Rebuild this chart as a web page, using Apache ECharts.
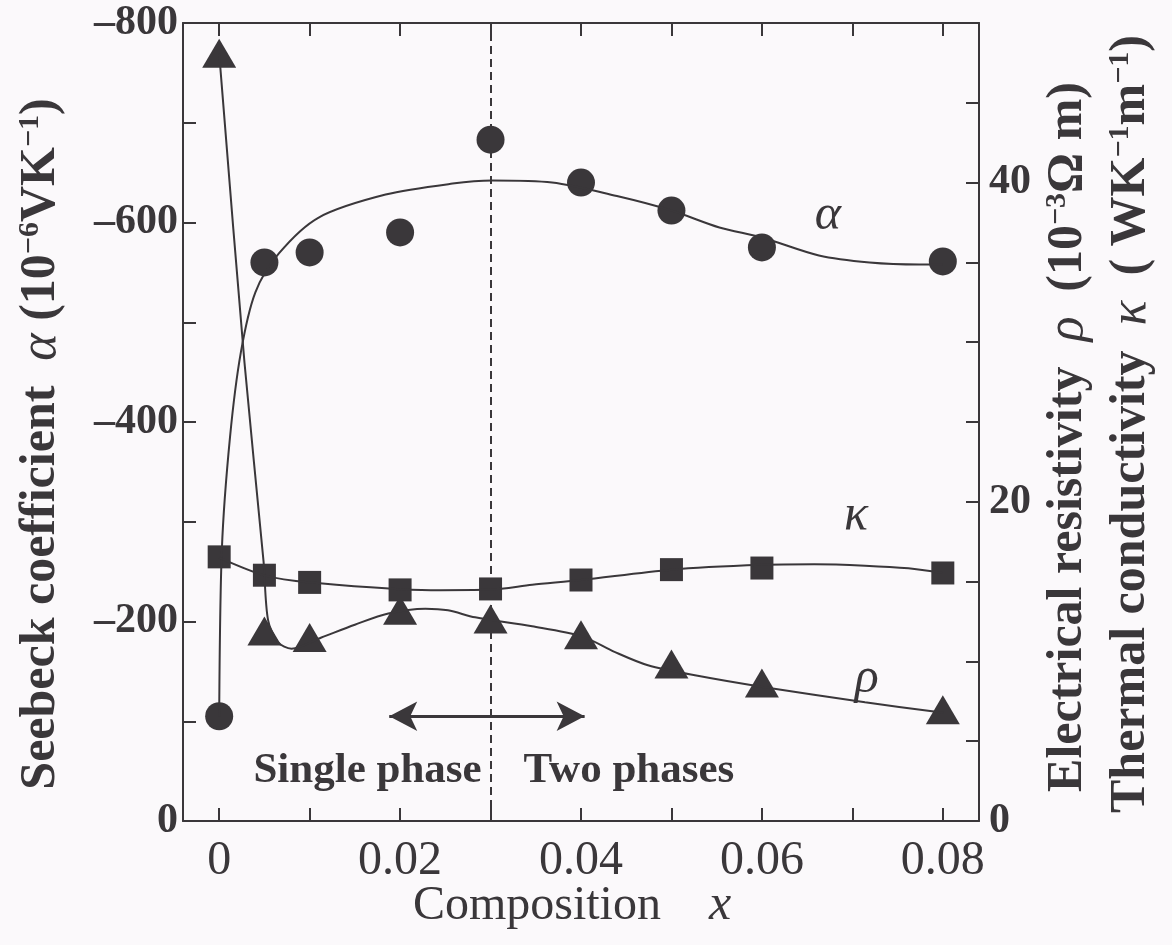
<!DOCTYPE html>
<html>
<head>
<meta charset="utf-8">
<script src="https://cdn.jsdelivr.net/npm/echarts@6/dist/echarts.min.js"></script>
<style>
  html, body { margin: 0; padding: 0; background: #fbf9fb; }
  #chart { width: 1172px; height: 945px; }
</style>
</head>
<body>
<div id="chart"></div>
<script>
// Composition x of the measured samples
const composition = [0, 0.005, 0.01, 0.02, 0.03, 0.04, 0.05, 0.06, 0.08];
// Seebeck coefficient alpha (10^-6 V/K)
const seebeck = [-105, -560, -570, -590, -683, -640, -612, -575, -561];
// Electrical resistivity rho (10^-3 Ohm m)
const resistivity = [48.1, 11.9, 11.5, 13.2, 12.65, 11.67, 9.84, 8.64, 6.97];
// Thermal conductivity kappa (W/K/m)
const conductivity = [16.55, 15.4, 14.95, 14.48, 14.54, 15.1, 15.75, 15.85, 15.54];

// Guide curves drawn through each data set
const seebeckCurveX = [0, 0.0003, 0.0012, 0.0024, 0.0040, 0.0066, 0.011, 0.0184, 0.0258, 0.0302, 0.0368, 0.0442, 0.05, 0.0553, 0.06, 0.0663, 0.0719, 0.0774, 0.08];
const seebeckCurveY = [-105, -273, -385, -470, -530, -569, -605, -628, -639, -642, -640, -626, -612, -595, -585, -567, -560, -558, -558];
const rhoCurveX = [0, 0.0028, 0.0049, 0.0054, 0.0065, 0.008, 0.0113, 0.015, 0.0187, 0.0228, 0.0253, 0.0283, 0.0346, 0.0401, 0.0437, 0.0474, 0.0529, 0.0601, 0.0714, 0.0801];
const rhoCurveY = [48.1, 28.7, 16.3, 12.6, 11.2, 10.8, 11.5, 12.3, 13.0, 13.3, 13.2, 12.76, 12.2, 11.57, 10.6, 9.76, 9.1, 8.4, 7.44, 6.78];
const kappaCurveX = [0, 0.005, 0.01, 0.0234, 0.03, 0.0346, 0.04, 0.05, 0.06, 0.0658, 0.0714, 0.0762, 0.08];
const kappaCurveY = [16.5, 15.39, 14.95, 14.46, 14.5, 14.8, 15.1, 15.75, 16.05, 16.09, 16.0, 15.83, 15.54];

// Tick labels
const xTickValues = [0, 0.02, 0.04, 0.06, 0.08];
const xTickLabels = ['0', '0.02', '0.04', '0.06', '0.08'];
const alphaTickValues = [0, -200, -400, -600, -800];
const alphaTickLabels = ['0', '\u2013200', '\u2013400', '\u2013600', '\u2013800'];
const rightTickValues = [0, 20, 40];
const rightTickLabels = ['0', '20', '40'];

// Phase boundary and annotations
const phaseBoundary = 0.03;
const phaseArrow = [[0.0188, -105], [0.0404, -105]];
const phaseLabels = [
  { name: 'Single phase', coord: [0.0164, -50] },
  { name: 'Two phases', coord: [0.0453, -50] }
];
const alphaTag = { name: '\u03b1', coord: [0.0673, -607] };
const kappaTag = { name: '\u03ba', coord: [0.0704, 19.1] };
const rhoTag = { name: '\u03c1', coord: [0.0716, 8.88] };

const ink = '#3a373a';
const serif = '"Liberation Serif", "Times New Roman", serif';

const pairs = (xs, ys) => xs.map((x, i) => [x, ys[i]]);
const tickFormatter = (values, labels) => v => {
  const i = values.findIndex(t => Math.abs(t - v) < 1e-9);
  return i < 0 ? '' : labels[i];
};

const axisLine = { show: true, onZero: false, lineStyle: { color: ink, width: 2 } };
const axisTick = { show: true, inside: true, length: 13, lineStyle: { color: ink, width: 2 } };

const titleRich = {
  t: { fontFamily: serif, fontWeight: 'bold', fontSize: 50, color: ink },
  g: { fontFamily: serif, fontStyle: 'italic', fontWeight: 'normal', fontSize: 52, color: ink },
  s: { fontFamily: serif, fontWeight: 'bold', fontSize: 30, color: ink, verticalAlign: 'top' }
};

const xAxisBase = {
  type: 'value',
  min: -0.004,
  max: 0.084,
  minInterval: 0.01,
  maxInterval: 0.01,
  splitNumber: 9,
  axisLine: axisLine,
  axisTick: axisTick,
  splitLine: { show: false }
};

const curveLine = { color: ink, width: 2 };

const chart = echarts.init(document.getElementById('chart'));

chart.setOption({
  backgroundColor: '#fbf9fb',
  animation: false,
  grid: { left: 183, right: 193, top: 23, bottom: 124 },
  xAxis: [
    Object.assign({}, xAxisBase, {
      position: 'bottom',
      axisLabel: {
        formatter: tickFormatter(xTickValues, xTickLabels),
        color: ink, fontFamily: serif, fontSize: 48, margin: 16
      },
      name: '{t|Composition}{t|    }{i|x}',
      nameLocation: 'middle',
      nameGap: 60,
      nameMoveOverlap: false,
      nameTextStyle: {
        padding: [0, 18, 0, 0],
        rich: {
          t: { fontFamily: serif, fontSize: 48, color: ink },
          i: { fontFamily: serif, fontStyle: 'italic', fontSize: 50, color: ink }
        }
      }
    }),
    Object.assign({}, xAxisBase, {
      position: 'top',
      axisLabel: { show: false }
    })
  ],
  yAxis: [
    {
      type: 'value',
      position: 'left',
      min: -800,
      max: 0,
      inverse: true,
      minInterval: 100,
      maxInterval: 100,
      splitNumber: 8,
      axisLine: axisLine,
      axisTick: axisTick,
      splitLine: { show: false },
      axisLabel: {
        formatter: tickFormatter(alphaTickValues, alphaTickLabels),
        color: ink, fontFamily: serif, fontWeight: 'bold', fontSize: 42, margin: 5
      },
      name: '{t|Seebeck coefficient  }{g|\u03b1}{t| (10}{s|\u22126}{t|VK}{s|\u22121}{t|)}',
      nameLocation: 'middle',
      nameRotate: 90,
      nameGap: 116,
      nameTextStyle: { rich: titleRich, padding: [0, 44, 0, 0] }
    },
    {
      type: 'value',
      position: 'right',
      min: 0,
      max: 50,
      interval: 5,
      axisLine: axisLine,
      axisTick: axisTick,
      splitLine: { show: false },
      axisLabel: {
        formatter: tickFormatter(rightTickValues, rightTickLabels),
        color: ink, fontFamily: serif, fontWeight: 'bold', fontSize: 42, margin: 10
      },
      name: '{t|Electrical resistivity  }{g|\u03c1}{t|  (10}{s|\u22123}{t|\u03a9 m)}',
      nameLocation: 'middle',
      nameRotate: 90,
      nameGap: 53,
      nameTextStyle: { rich: titleRich, padding: [0, 30, 0, 0] }
    },
    {
      type: 'value',
      position: 'right',
      min: 0,
      max: 50,
      interval: 5,
      axisLine: { show: false },
      axisTick: { show: false },
      axisLabel: { show: false },
      splitLine: { show: false },
      name: '{t|Thermal conductivity  }{g|\u03ba}{t|  ( WK}{s|\u22121}{t|m}{s|\u22121}{t|)}',
      nameLocation: 'middle',
      nameRotate: 90,
      nameGap: 126,
      nameTextStyle: { rich: titleRich, padding: [0, 4, 0, 0] }
    }
  ],
  series: [
    {
      name: 'alpha curve',
      type: 'line',
      xAxisIndex: 0, yAxisIndex: 0,
      data: pairs(seebeckCurveX, seebeckCurveY),
      showSymbol: false,
      smooth: 0.3,
      lineStyle: curveLine,
      markLine: {
        silent: true,
        animation: false,
        label: { show: false },
        data: [
          [
            { coord: [phaseBoundary, 0], symbol: 'none' },
            { coord: [phaseBoundary, -800], symbol: 'none' }
          ]
        ],
        lineStyle: { color: ink, width: 2, type: [8, 5] }
      }
    },
    {
      name: 'rho curve',
      type: 'line',
      xAxisIndex: 0, yAxisIndex: 1,
      data: pairs(rhoCurveX, rhoCurveY),
      showSymbol: false,
      smooth: 0.3,
      lineStyle: curveLine
    },
    {
      name: 'kappa curve',
      type: 'line',
      xAxisIndex: 0, yAxisIndex: 1,
      data: pairs(kappaCurveX, kappaCurveY),
      showSymbol: false,
      smooth: 0.3,
      lineStyle: curveLine
    },
    {
      name: 'alpha',
      type: 'scatter',
      xAxisIndex: 0, yAxisIndex: 0,
      data: pairs(composition, seebeck),
      symbol: 'circle',
      symbolSize: 28,
      itemStyle: { color: ink, opacity: 1 },
      markLine: {
        silent: true,
        animation: false,
        symbol: ['arrow', 'arrow'],
        symbolSize: [22, 28],
        label: { show: false },
        lineStyle: { color: ink, width: 3, type: 'solid' },
        data: [[{ coord: phaseArrow[0] }, { coord: phaseArrow[1] }]]
      },
      markPoint: {
        silent: true,
        symbol: 'circle',
        symbolSize: 0,
        label: { show: true, position: 'inside', formatter: '{b}', color: ink, fontFamily: serif },
        data: [
          Object.assign({}, alphaTag, { label: { fontStyle: 'italic', fontSize: 50 } }),
          ...phaseLabels.map(p => Object.assign({}, p, { label: { fontWeight: 'bold', fontSize: 43 } }))
        ]
      }
    },
    {
      name: 'rho',
      type: 'scatter',
      xAxisIndex: 0, yAxisIndex: 1,
      data: pairs(composition, resistivity),
      symbol: 'triangle',
      symbolSize: [34, 29],
      itemStyle: { color: ink, opacity: 1 },
      markPoint: {
        silent: true,
        symbol: 'circle',
        symbolSize: 0,
        label: { show: true, position: 'inside', formatter: '{b}', color: ink, fontFamily: serif, fontStyle: 'italic', fontSize: 50 },
        data: [rhoTag]
      }
    },
    {
      name: 'kappa',
      type: 'scatter',
      xAxisIndex: 0, yAxisIndex: 1,
      data: pairs(composition, conductivity),
      symbol: 'rect',
      symbolSize: 23,
      itemStyle: { color: ink, opacity: 1 },
      markPoint: {
        silent: true,
        symbol: 'circle',
        symbolSize: 0,
        label: { show: true, position: 'inside', formatter: '{b}', color: ink, fontFamily: serif, fontStyle: 'italic', fontSize: 50 },
        data: [kappaTag]
      }
    }
  ]
});
</script>
</body>
</html>
